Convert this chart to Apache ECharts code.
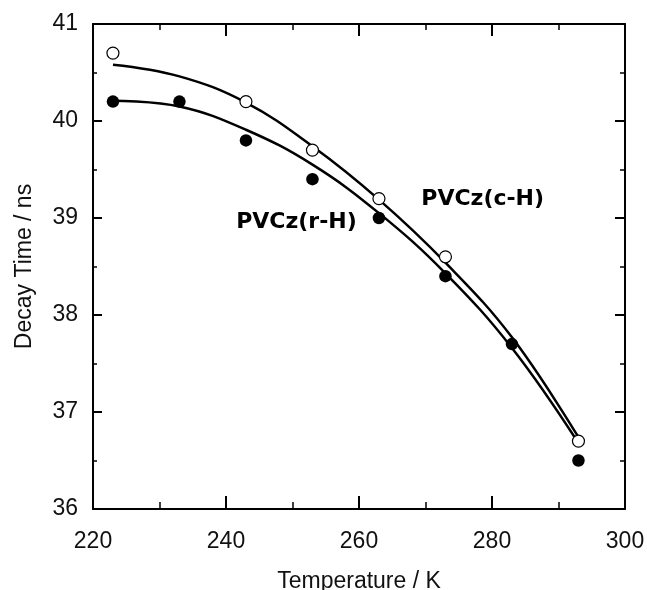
<!DOCTYPE html>
<html><head><meta charset="utf-8">
<script src="https://cdn.jsdelivr.net/npm/echarts@6/dist/echarts.min.js"></script>
<style>html,body{margin:0;padding:0;background:#fff}#c{width:647px;height:590px}</style>
</head><body><div id="c"></div>
<script>
// Measured data (open circles: PVCz(c-H), filled circles: PVCz(r-H))
const tempCH = [223, 243, 253, 263, 273, 293];
const decayCH = [40.7, 40.2, 39.7, 39.2, 38.6, 36.7];
const tempRH = [223, 233, 243, 253, 263, 273, 283, 293];
const decayRH = [40.2, 40.2, 39.8, 39.4, 39.0, 38.4, 37.7, 36.5];
// Fitted curves
const fitTemp = [223, 233, 243, 253, 263, 273, 283, 293];
const fitCH = [40.58, 40.46, 40.19, 39.74, 39.19, 38.54, 37.77, 36.74];
const fitRH = [40.21, 40.15, 39.91, 39.55, 39.05, 38.43, 37.66, 36.68];
// Curve labels (text and anchor in data coordinates)
const labelText = ['PVCz(c-H)', 'PVCz(r-H)'];
const labelTemp = [278.6, 250.6];
const labelDecay = [39.19, 38.96];

const zip = (a, b) => a.map((v, i) => [v, b[i]]);
const FONT = 'Liberation Sans, Arial, sans-serif';

function axisCommon(extra) {
  return Object.assign({
    type: 'value',
    axisLine: { show: true, onZero: false, lineStyle: { color: '#000', width: 2 } },
    splitLine: { show: false },
    axisTick: { show: true, inside: true, lineStyle: { color: '#000', width: 2 } },
    minorTick: { show: true, splitNumber: 2, lineStyle: { color: '#000', width: 1.5 } },
  }, extra);
}

const chart = echarts.init(document.getElementById('c'), null, { renderer: 'canvas' });
chart.setOption({
  animation: false,
  backgroundColor: '#fff',
  grid: { left: 93, right: 22, top: 24, bottom: 81, containLabel: false, outerBoundsMode: 'none' },
  xAxis: [
    axisCommon({
      position: 'bottom', min: 220, max: 300, interval: 20,
      name: 'Temperature / K', nameLocation: 'middle', nameGap: 61,
      nameTextStyle: { fontFamily: FONT, fontSize: 23, color: '#111' },
      axisLabel: { margin: 21, fontFamily: FONT, fontSize: 23, color: '#111' },
      axisTick: { show: true, inside: true, length: 13, lineStyle: { color: '#000', width: 2 } },
      minorTick: { show: true, splitNumber: 2, length: 7, lineStyle: { color: '#000', width: 1.5 } }
    }),
    axisCommon({
      position: 'top', min: 220, max: 300, interval: 20,
      axisLabel: { show: false },
      axisTick: { show: true, inside: true, length: 12, lineStyle: { color: '#000', width: 2 } },
      minorTick: { show: true, splitNumber: 2, length: 6, lineStyle: { color: '#000', width: 1.5 } }
    })
  ],
  yAxis: [
    axisCommon({
      position: 'left', min: 36, max: 41, interval: 1,
      name: 'Decay Time / ns', nameLocation: 'middle', nameGap: 57, nameRotate: 90,
      nameTextStyle: { fontFamily: FONT, fontSize: 23, color: '#111' },
      axisLabel: { margin: 15, fontFamily: FONT, fontSize: 23, color: '#111' },
      axisTick: { show: true, inside: true, length: 9, lineStyle: { color: '#000', width: 2 } },
      minorTick: { show: true, splitNumber: 2, length: 4, lineStyle: { color: '#000', width: 1.5 } }
    }),
    axisCommon({
      position: 'right', min: 36, max: 41, interval: 1,
      axisLabel: { show: false },
      axisTick: { show: true, inside: true, length: 10, lineStyle: { color: '#000', width: 2 } },
      minorTick: { show: true, splitNumber: 2, length: 5, lineStyle: { color: '#000', width: 1.5 } }
    })
  ],
  series: [
    {
      type: 'line', name: 'fit c-H', data: zip(fitTemp, fitCH), smooth: 0.4,
      showSymbol: false, symbol: 'none', z: 2,
      lineStyle: { color: '#000', width: 2.5 }
    },
    {
      type: 'line', name: 'fit r-H', data: zip(fitTemp, fitRH), smooth: 0.4,
      showSymbol: false, symbol: 'none', z: 2,
      lineStyle: { color: '#000', width: 2.5 }
    },
    {
      type: 'scatter', name: 'PVCz(r-H)', data: zip(tempRH, decayRH), z: 3,
      symbol: 'circle', symbolSize: 12.5,
      itemStyle: { color: '#000', borderColor: '#000', borderWidth: 0, opacity: 1 }
    },
    {
      type: 'scatter', name: 'PVCz(c-H)', data: zip(tempCH, decayCH), z: 4,
      symbol: 'circle', symbolSize: 12,
      itemStyle: { color: '#fff', borderColor: '#000', borderWidth: 1.2, opacity: 1 }
    },
    {
      type: 'scatter', name: 'labels', z: 5, silent: true,
      data: labelText.map((t, i) => ({ value: [labelTemp[i], labelDecay[i]], name: t })),
      symbolSize: 0,
      itemStyle: { opacity: 1 },
      label: {
        show: true, position: 'inside', formatter: p => p.name,
        fontFamily: 'DejaVu Sans', fontWeight: 'bold', fontSize: 22, color: '#000',
        opacity: 1
      }
    }
  ]
});
</script>
</body></html>
